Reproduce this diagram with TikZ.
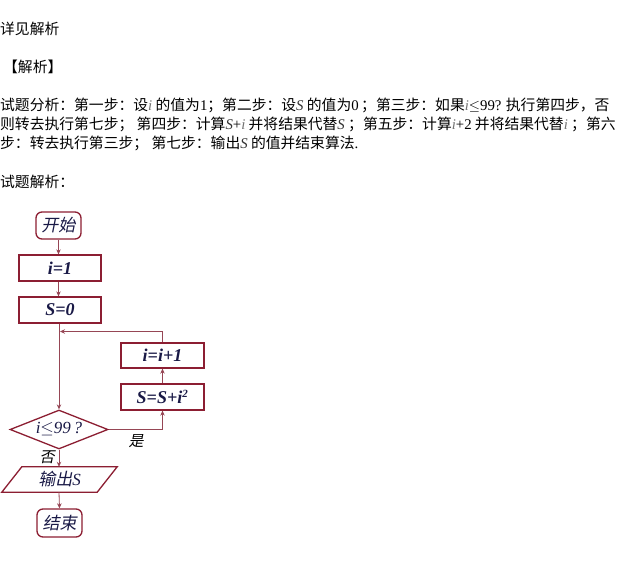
\documentclass[tikz,border=0pt]{standalone}
\usepackage{fontspec}
\setmainfont{Liberation Serif}
\newfontfamily\cjk{Noto Sans CJK SC}
\newfontfamily\cjkit[FakeSlant=0.2]{Noto Sans CJK SC}
\usetikzlibrary{arrows.meta,shapes.geometric}
\definecolor{boxred}{RGB}{140,30,50}
\definecolor{linered}{RGB}{150,70,85}
\definecolor{ink}{RGB}{25,25,70}
\newcommand{\vi}{{\rmfamily\itshape\color[gray]{0.45}i}}
\newcommand{\vS}{{\rmfamily\itshape\color[gray]{0.2}S}}
\newcommand{\rmt}[1]{{\rmfamily #1}}
\begin{document}
\begin{tikzpicture}[x=1pt,y=-1pt,
  para/.style={anchor=west,inner sep=0pt,font=\fontsize{14.8pt}{16pt}\cjk},
  box/.style={draw=boxred,line width=1.3pt,inner sep=0pt,text=ink,
    font=\fontsize{18pt}{18pt}\bfseries\itshape},
  term/.style={box,rounded corners=6pt,font=\fontsize{17pt}{18pt}\cjkit},
  conn/.style={draw=linered,line width=0.8pt},
  arr/.style={conn,-{Stealth[length=5pt,width=4.5pt]}},
  lbl/.style={inner sep=0pt,text=black,font=\fontsize{15pt}{16pt}\cjkit}]
\useasboundingbox[fill=white] (0,0) rectangle (630,586);
% text
\node[para] (t1) at (0,29) {详见解析};
\node[para] (t2) at (3,67) {【解析】};
\node[para] (t3) at (0,105) {试题分析：第一步：设\vi\ 的值为\rmt{1}；第二步：设\vS\ 的值为\rmt{0}\,；第三步：如果\vi\rmt{$\leq$99?} 执行第四步，否};
\node[para] (t4) at (0,124) {则转去执行第七步；\ 第四步：计算\vS\rmt{+}\vi\ 并将结果代替\vS\ ；第五步：计算\vi\rmt{+2} 并将结果代替\vi\ ；第六};
\node[para] (t5) at (0,143) {步：转去执行第三步；\ 第七步：输出\vS\ 的值并结束算法\rmt{.}};
\node[para] (t6) at (0,182) {试题解析：};
% flowchart
\node[term,minimum width=45pt,minimum height=27pt] (start) at (58.5,225.5) {开始};
\node[box,minimum width=82pt,minimum height=26pt] (i1) at (60,268) {i=1};
\node[box,minimum width=82pt,minimum height=26pt] (s0) at (60,310) {S=0};
\node[box,minimum width=83pt,minimum height=25pt] (ii) at (162.5,355.5) {i=i+1};
\node[box,minimum width=83pt,minimum height=26pt] (ss) at (162.5,397) {S=S+i\textsuperscript{\fontsize{11pt}{12pt}\selectfont 2}};
\node[box,diamond,aspect=2.5,minimum width=98pt,minimum height=39pt,font=\fontsize{17pt}{18pt}\itshape] (dia) at (59,429.5) {i$\leq$99\,?};
\node[inner sep=0pt,minimum width=95pt,minimum height=25pt,text=ink,font=\fontsize{17pt}{18pt}\cjkit] (out) at (59.5,479.5) {输出{\itshape\rmfamily S}};
\draw[boxred,line width=1.3pt] ([xshift=10pt]out.north west) -- ([xshift=10pt]out.north east) -- ([xshift=-10pt]out.south east) -- ([xshift=-10pt]out.south west) -- cycle;
\node[term,minimum width=45pt,minimum height=28pt] (end) at (59.5,523) {结束};
\coordinate (loop) at (59,331.5);
\coordinate (loopr) at (162.5,331.5);
\coordinate (yes) at (162.5,429.5);
% connectors
\draw[arr] (start.south) -- (start.south |- i1.north);
\draw[arr] (i1.south -| start.south) -- (start.south |- s0.north);
\draw[arr] (s0.south -| dia.north) -- (dia.north);
\draw[arr] (ii.north) -- (loopr) -- ([xshift=1pt]loop);
\draw[arr] (dia.east) -- (yes) -- (ss.south);
\draw[arr] (ss.north) -- (ii.south);
\draw[arr] (dia.south) -- (dia.south |- out.north);
\draw[arr] (out.south -| dia.south) -- (end.north);
\node[lbl] (yl) at (136,441) {是};
\node[lbl] (nl) at (47,457) {否};
\end{tikzpicture}
\end{document}
